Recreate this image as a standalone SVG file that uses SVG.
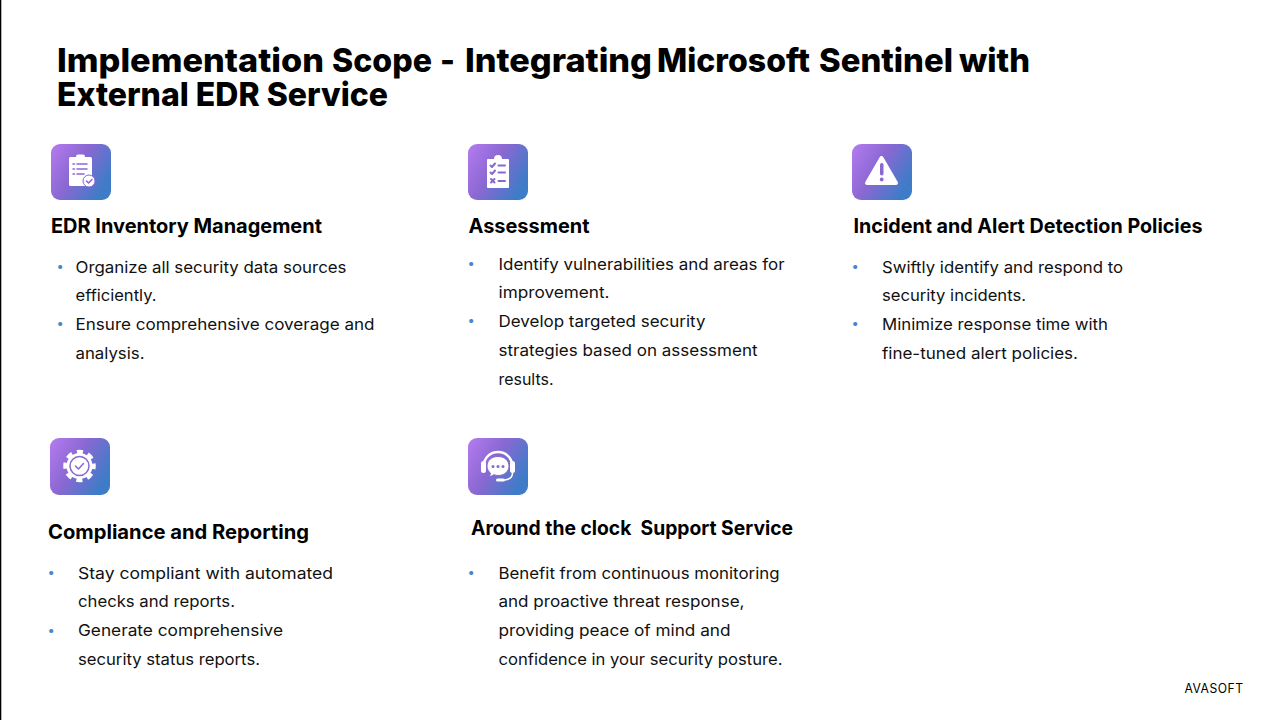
<svg xmlns="http://www.w3.org/2000/svg" width="1280" height="720" viewBox="0 0 1280 720">
<defs>
<linearGradient id="g" x1="0" y1="0" x2="1" y2="0.55"><stop offset="0" stop-color="#b57bf0"/><stop offset="0.5" stop-color="#8a68d2"/><stop offset="1" stop-color="#3f7cc8"/></linearGradient>
</defs>
<style>
text{font-family:"Inter","Liberation Sans",sans-serif;fill:#000}
.t{font-size:33px;font-weight:800}
.h{font-size:20px;font-weight:700}
.b{font-size:16px;font-weight:400;fill:#111}
.d{font-size:13px;fill:#4a86c8}
.bg{fill:url(#g)}
.w{fill:#fff}
.p{fill:none;stroke:#8a68d2;stroke-width:1.5;stroke-linecap:round;stroke-linejoin:round}
.q{fill:none;stroke:#8a68d2;stroke-width:2;stroke-linecap:round;stroke-linejoin:round}
.f{font-size:12.500px;letter-spacing:.5px}
</style>
<rect width="1280" height="720" fill="#fff"/>
<rect x="0" y="0" width="1.300" height="720" fill="#000"/>
<g id="title">
<text class="t"><tspan x="57" y="72" textLength="267" lengthAdjust="spacingAndGlyphs">Implementation</tspan><tspan x="332" y="72" textLength="100" lengthAdjust="spacingAndGlyphs">Scope</tspan><tspan x="440" y="72" textLength="15" lengthAdjust="spacingAndGlyphs">-</tspan><tspan x="465" y="72" textLength="187" lengthAdjust="spacingAndGlyphs">Integrating</tspan><tspan x="657" y="72" textLength="153" lengthAdjust="spacingAndGlyphs">Microsoft</tspan><tspan x="819" y="72" textLength="134" lengthAdjust="spacingAndGlyphs">Sentinel</tspan><tspan x="959" y="72" textLength="71" lengthAdjust="spacingAndGlyphs">with</tspan><tspan x="57" y="106" textLength="331" lengthAdjust="spacingAndGlyphs">External EDR Service</tspan></text>
</g>
<g id="card-inventory">
<rect class="bg" x="51" y="144" width="60" height="56" rx="9"/>
<rect class="w" x="69" y="157" width="23" height="29" rx="1.500"/>
<rect class="w" x="76" y="154.500" width="9" height="5" rx="2"/>
<path class="p" d="M73 164h1.500M77 164h10M73 169h1.500M77 169h10M73 174h1.500M77 174h7"/>
<circle cx="89" cy="181" r="6" fill="#fff" stroke="#8a68d2" stroke-width="1"/>
<path class="p" d="M86.500 181l2 2 3.500-3.500"/>
<text class="h" x="51" y="233" textLength="271" lengthAdjust="spacingAndGlyphs">EDR Inventory Management</text>
<text class="d" x="56.500" y="271">•</text>
<text class="b" x="75.500" y="273" textLength="271" lengthAdjust="spacingAndGlyphs">Organize all security data sources</text>
<text class="b" x="75.500" y="301" textLength="81" lengthAdjust="spacingAndGlyphs">efficiently.</text>
<text class="d" x="56.500" y="328">•</text>
<text class="b" x="75.500" y="330" textLength="299" lengthAdjust="spacingAndGlyphs">Ensure comprehensive coverage and</text>
<text class="b" x="75.500" y="359" textLength="69" lengthAdjust="spacingAndGlyphs">analysis.</text>
</g>
<g id="card-assessment">
<rect class="bg" x="468" y="144" width="60" height="56" rx="9"/>
<rect class="w" x="487" y="159" width="22" height="29" rx="1"/>
<path class="w" d="M491 161v-2h3a4 4 0 0 1 8 0h3v2z"/>
<path class="q" d="M490.500 165.500l1.500 1.500 3-3.500M498.500 165.500h6.500M490.500 172.500l1.500 1.500 3-3.500M498.500 172.500h6.500M491 179l3.500 3.500M494.500 179l-3.500 3.500M498.500 181h6.500"/>
<text class="h" x="468.500" y="233" textLength="121" lengthAdjust="spacingAndGlyphs">Assessment</text>
<text class="d" x="467.500" y="268">•</text>
<text class="b" x="498.500" y="270" textLength="286" lengthAdjust="spacingAndGlyphs">Identify vulnerabilities and areas for</text>
<text class="b" x="498.500" y="298" textLength="111" lengthAdjust="spacingAndGlyphs">improvement.</text>
<text class="d" x="467.500" y="325">•</text>
<text class="b" x="498.500" y="327" textLength="207" lengthAdjust="spacingAndGlyphs">Develop targeted security</text>
<text class="b" x="498.500" y="356" textLength="259" lengthAdjust="spacingAndGlyphs">strategies based on assessment</text>
<text class="b" x="498.500" y="385" textLength="55" lengthAdjust="spacingAndGlyphs">results.</text>
</g>
<g id="card-incident">
<rect class="bg" x="852" y="144" width="60" height="56" rx="9"/>
<path class="w" stroke="#fff" stroke-width="4" stroke-linejoin="round" d="M881.500 158L867 183H896z"/>
<rect x="880" y="163" width="3.500" height="12.500" rx="1.700" fill="#8a68d2"/>
<circle cx="881.700" cy="179.500" r="1.900" fill="#8a68d2"/>
<text class="h" x="853.500" y="233" textLength="349" lengthAdjust="spacingAndGlyphs">Incident and Alert Detection Policies</text>
<text class="d" x="851.500" y="271">•</text>
<text class="b" x="882" y="273" textLength="241" lengthAdjust="spacingAndGlyphs">Swiftly identify and respond to</text>
<text class="b" x="882" y="301" textLength="144" lengthAdjust="spacingAndGlyphs">security incidents.</text>
<text class="d" x="851.500" y="328">•</text>
<text class="b" x="882" y="330" textLength="226" lengthAdjust="spacingAndGlyphs">Minimize response time with</text>
<text class="b" x="882" y="359" textLength="196" lengthAdjust="spacingAndGlyphs">fine-tuned alert policies.</text>
</g>
<g id="card-compliance">
<rect class="bg" x="50" y="438" width="60" height="57" rx="9"/>
<circle cx="79.500" cy="466" r="13" class="w"/>
<circle cx="79.500" cy="466" r="14" fill="none" stroke="#fff" stroke-width="4.500" stroke-dasharray="6 4.996" stroke-dashoffset="3"/>
<circle cx="79.500" cy="466" r="9.500" fill="#fff" stroke="#8a68d2" stroke-width="1.500"/>
<path class="p" d="M75.500 466l3 3 5-5.500"/>
<text class="h" x="48" y="539" textLength="261" lengthAdjust="spacingAndGlyphs">Compliance and Reporting</text>
<text class="d" x="47.500" y="577">•</text>
<text class="b" x="78" y="579" textLength="255" lengthAdjust="spacingAndGlyphs">Stay compliant with automated</text>
<text class="b" x="78" y="607" textLength="157" lengthAdjust="spacingAndGlyphs">checks and reports.</text>
<text class="d" x="47.500" y="635">•</text>
<text class="b" x="78" y="636" textLength="205" lengthAdjust="spacingAndGlyphs">Generate comprehensive</text>
<text class="b" x="78" y="665" textLength="182" lengthAdjust="spacingAndGlyphs">security status reports.</text>
</g>
<g id="card-support">
<rect class="bg" x="468" y="438" width="60" height="57" rx="9"/>
<path d="M484 465a14 13 0 0 1 28 0" fill="none" stroke="#fff" stroke-width="2.500"/>
<rect class="w" x="481" y="461" width="5" height="12" rx="2.500"/>
<rect class="w" x="510" y="461" width="5" height="12" rx="2.500"/>
<path d="M498 456.500c-6.500 0-11 4-11 9.500 0 3 1.300 5.500 3.500 7l-1 4 4.500-2.300c1.300.5 2.700.8 4 .8 6.500 0 11-4.200 11-9.500s-4.500-9.500-11-9.500z" fill="#fff" stroke="#8a68d2" stroke-width="1"/>
<circle cx="493" cy="466.500" r="1.500" fill="#8a68d2"/><circle cx="498" cy="466.500" r="1.500" fill="#8a68d2"/><circle cx="503" cy="466.500" r="1.500" fill="#8a68d2"/>
<path d="M512.500 473c0 5-3 6.500-8 7" fill="none" stroke="#fff" stroke-width="1.500"/>
<rect class="w" x="496" y="478.500" width="9" height="3" rx="1.500"/>
<text class="h" x="471" y="535" textLength="322" lengthAdjust="spacingAndGlyphs" xml:space="preserve">Around the clock  Support Service</text>
<text class="d" x="467.500" y="577">•</text>
<text class="b" x="498.500" y="579" textLength="281" lengthAdjust="spacingAndGlyphs">Benefit from continuous monitoring</text>
<text class="b" x="498.500" y="607" textLength="246" lengthAdjust="spacingAndGlyphs">and proactive threat response,</text>
<text class="b" x="498.500" y="636" textLength="232" lengthAdjust="spacingAndGlyphs">providing peace of mind and</text>
<text class="b" x="498.500" y="665" textLength="284" lengthAdjust="spacingAndGlyphs">confidence in your security posture.</text>
</g>
<text class="f" x="1184.500" y="693" textLength="59" lengthAdjust="spacingAndGlyphs">AVASOFT</text>
</svg>
